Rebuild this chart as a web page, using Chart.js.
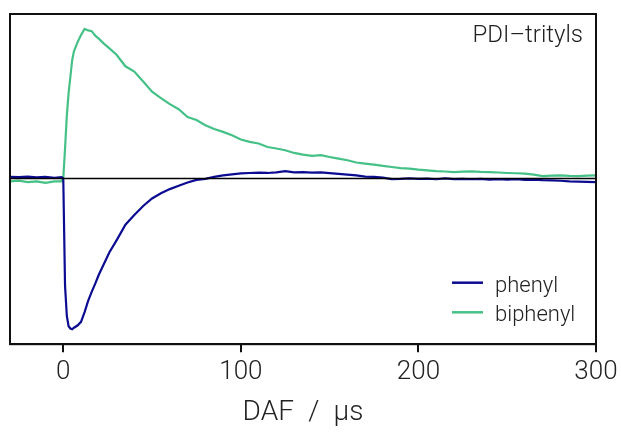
<!DOCTYPE html>
<html>
<head>
  <meta charset="UTF-8">
  <title>PDI-trityls DAF</title>
  <script src="https://cdn.jsdelivr.net/npm/chart.js"></script>
  <style>
    html, body { margin: 0; padding: 0; background: #fff; }
    #wrap { width: 621px; height: 433px; }
  </style>
</head>
<body>
  <div id="wrap"><canvas id="chart"></canvas></div>

  <script>
  // time axis (µs) shared by both traces
  const timeUs = [-30, -25, -20, -15, -10, -5, -1, 0, 1, 2, 3, 4, 5, 6, 8, 10, 12, 14, 16, 18, 20, 23, 26,
    30, 35, 40, 45, 50, 55, 60, 65, 70, 75, 80, 85, 90, 95, 100, 105, 110, 115, 120, 125, 130, 135, 140,
    145, 150, 155, 160, 165, 170, 175, 180, 185, 190, 195, 200, 205, 210, 215, 220, 225, 230, 235, 240,
    245, 250, 255, 260, 265, 270, 275, 280, 285, 290, 295, 300];

  const phenyl = [0.01, 0.008, 0.012, 0.006, 0.01, 0.004, 0.008, 0.0, -0.72, -0.92, -0.99, -1.005, -1.01, -1.0,
    -0.985, -0.96, -0.895, -0.82, -0.76, -0.705, -0.645, -0.57, -0.495,
    -0.415, -0.31, -0.245, -0.185, -0.135, -0.1, -0.072, -0.05, -0.028, -0.01, -0.003, 0.01, 0.02, 0.027, 0.033,
    0.036, 0.038, 0.036, 0.04, 0.048, 0.04, 0.042, 0.038,
    0.04, 0.035, 0.03, 0.025, 0.02, 0.012, 0.01, 0.005, -0.005, -0.004, 0.0, -0.003, -0.002, -0.006, 0.0,
    -0.005, -0.003, -0.006, -0.004, -0.008,
    -0.005, -0.008, -0.006, -0.01, -0.008, -0.012, -0.014, -0.016, -0.02, -0.022, -0.024, -0.025];

  const biphenyl = [-0.02, -0.015, -0.025, -0.02, -0.03, -0.02, -0.02, 0.0, 0.2, 0.42, 0.57, 0.68, 0.79, 0.85,
    0.91, 0.96, 1.0, 0.99, 0.985, 0.955, 0.935, 0.9, 0.87,
    0.827, 0.75, 0.715, 0.648, 0.58, 0.537, 0.497, 0.463, 0.41, 0.39, 0.356, 0.33, 0.311, 0.289, 0.26,
    0.244, 0.233, 0.21, 0.2, 0.188, 0.17, 0.159, 0.15,
    0.155, 0.143, 0.132, 0.121, 0.106, 0.099, 0.092, 0.083, 0.076, 0.069, 0.065, 0.058, 0.054, 0.049, 0.046,
    0.042, 0.045, 0.047, 0.043, 0.042,
    0.039, 0.036, 0.034, 0.032, 0.025, 0.015, 0.018, 0.02, 0.016, 0.015, 0.018, 0.02];

  const xTickValues = [0, 100, 200, 300];
  const seriesNames = ['phenyl', 'biphenyl'];
  const seriesColors = ['#0c0c92', '#45c187'];
  const panelLabel = 'PDI\u2013trityls';

  const FONT = 'Roboto, "Liberation Sans", sans-serif';

  const toPoints = ys => timeUs.map((t, i) => ({ x: t, y: ys[i] }));

  // frame, zero line, panel label and legend inside the axes
  const decor = {
    id: 'decor',
    afterDatasetsDraw(chart) {
      const { ctx, chartArea: a, scales } = chart;
      ctx.save();
      const y0 = Math.round(scales.y.getPixelForValue(0)) + 0.5;
      ctx.strokeStyle = '#000';
      ctx.lineWidth = 1.3;
      ctx.beginPath();
      ctx.moveTo(a.left, y0);
      ctx.lineTo(a.right, y0);
      ctx.stroke();

      ctx.lineWidth = 2;
      ctx.strokeStyle = '#111';
      ctx.strokeRect(a.left, a.top, a.right - a.left, a.bottom - a.top);

      ctx.fillStyle = '#222';
      ctx.font = '300 24px ' + FONT;
      ctx.textAlign = 'right';
      ctx.textBaseline = 'alphabetic';
      ctx.fillText(panelLabel, a.right - 13, a.top + 28);

      ctx.textAlign = 'left';
      ctx.font = '300 22px ' + FONT;
      chart.data.datasets.forEach((ds, i) => {
        const y = a.bottom - 61.5 + i * 29.6;
        ctx.strokeStyle = ds.borderColor;
        ctx.lineWidth = 2.5;
        ctx.beginPath();
        ctx.moveTo(a.right - 144, y);
        ctx.lineTo(a.right - 113, y);
        ctx.stroke();
        ctx.fillText(ds.label, a.right - 101, y + 9);
      });
      ctx.restore();
    }
  };

  new Chart(document.getElementById('chart'), {
    type: 'line',
    data: {
      datasets: [
        { label: seriesNames[0], data: toPoints(phenyl), borderColor: seriesColors[0], borderWidth: 2.2 },
        { label: seriesNames[1], data: toPoints(biphenyl), borderColor: seriesColors[1], borderWidth: 2.2 }
      ]
    },
    options: {
      responsive: true,
      maintainAspectRatio: false,
      animation: false,
      elements: { point: { radius: 0 }, line: { tension: 0 } },
      layout: { padding: { left: 10, right: 25, top: 14, bottom: 0 } },
      plugins: { legend: { display: false }, tooltip: { enabled: false } },
      scales: {
        x: {
          type: 'linear',
          min: -30,
          max: 300,
          afterBuildTicks: axis => { axis.ticks = xTickValues.map(v => ({ value: v })); },
          afterFit: axis => { axis.paddingLeft = 0; axis.paddingRight = 0; },
          grid: { drawOnChartArea: false, drawTicks: true, tickLength: 8, color: '#111', lineWidth: 2 },
          border: { display: true, color: '#111', width: 2 },
          ticks: { color: '#222', font: { family: FONT, size: 26, weight: '300' }, padding: 5, maxRotation: 0 },
          title: {
            display: true, text: 'DAF\u2002/\u2002\u03bcs', color: '#222',
            font: { family: FONT, size: 28, weight: '300' }, padding: { top: 3, bottom: 3 }
          }
        },
        y: {
          display: false,
          min: -1.11,
          max: 1.10
        }
      }
    },
    plugins: [decor]
  });
  </script>
</body>
</html>
